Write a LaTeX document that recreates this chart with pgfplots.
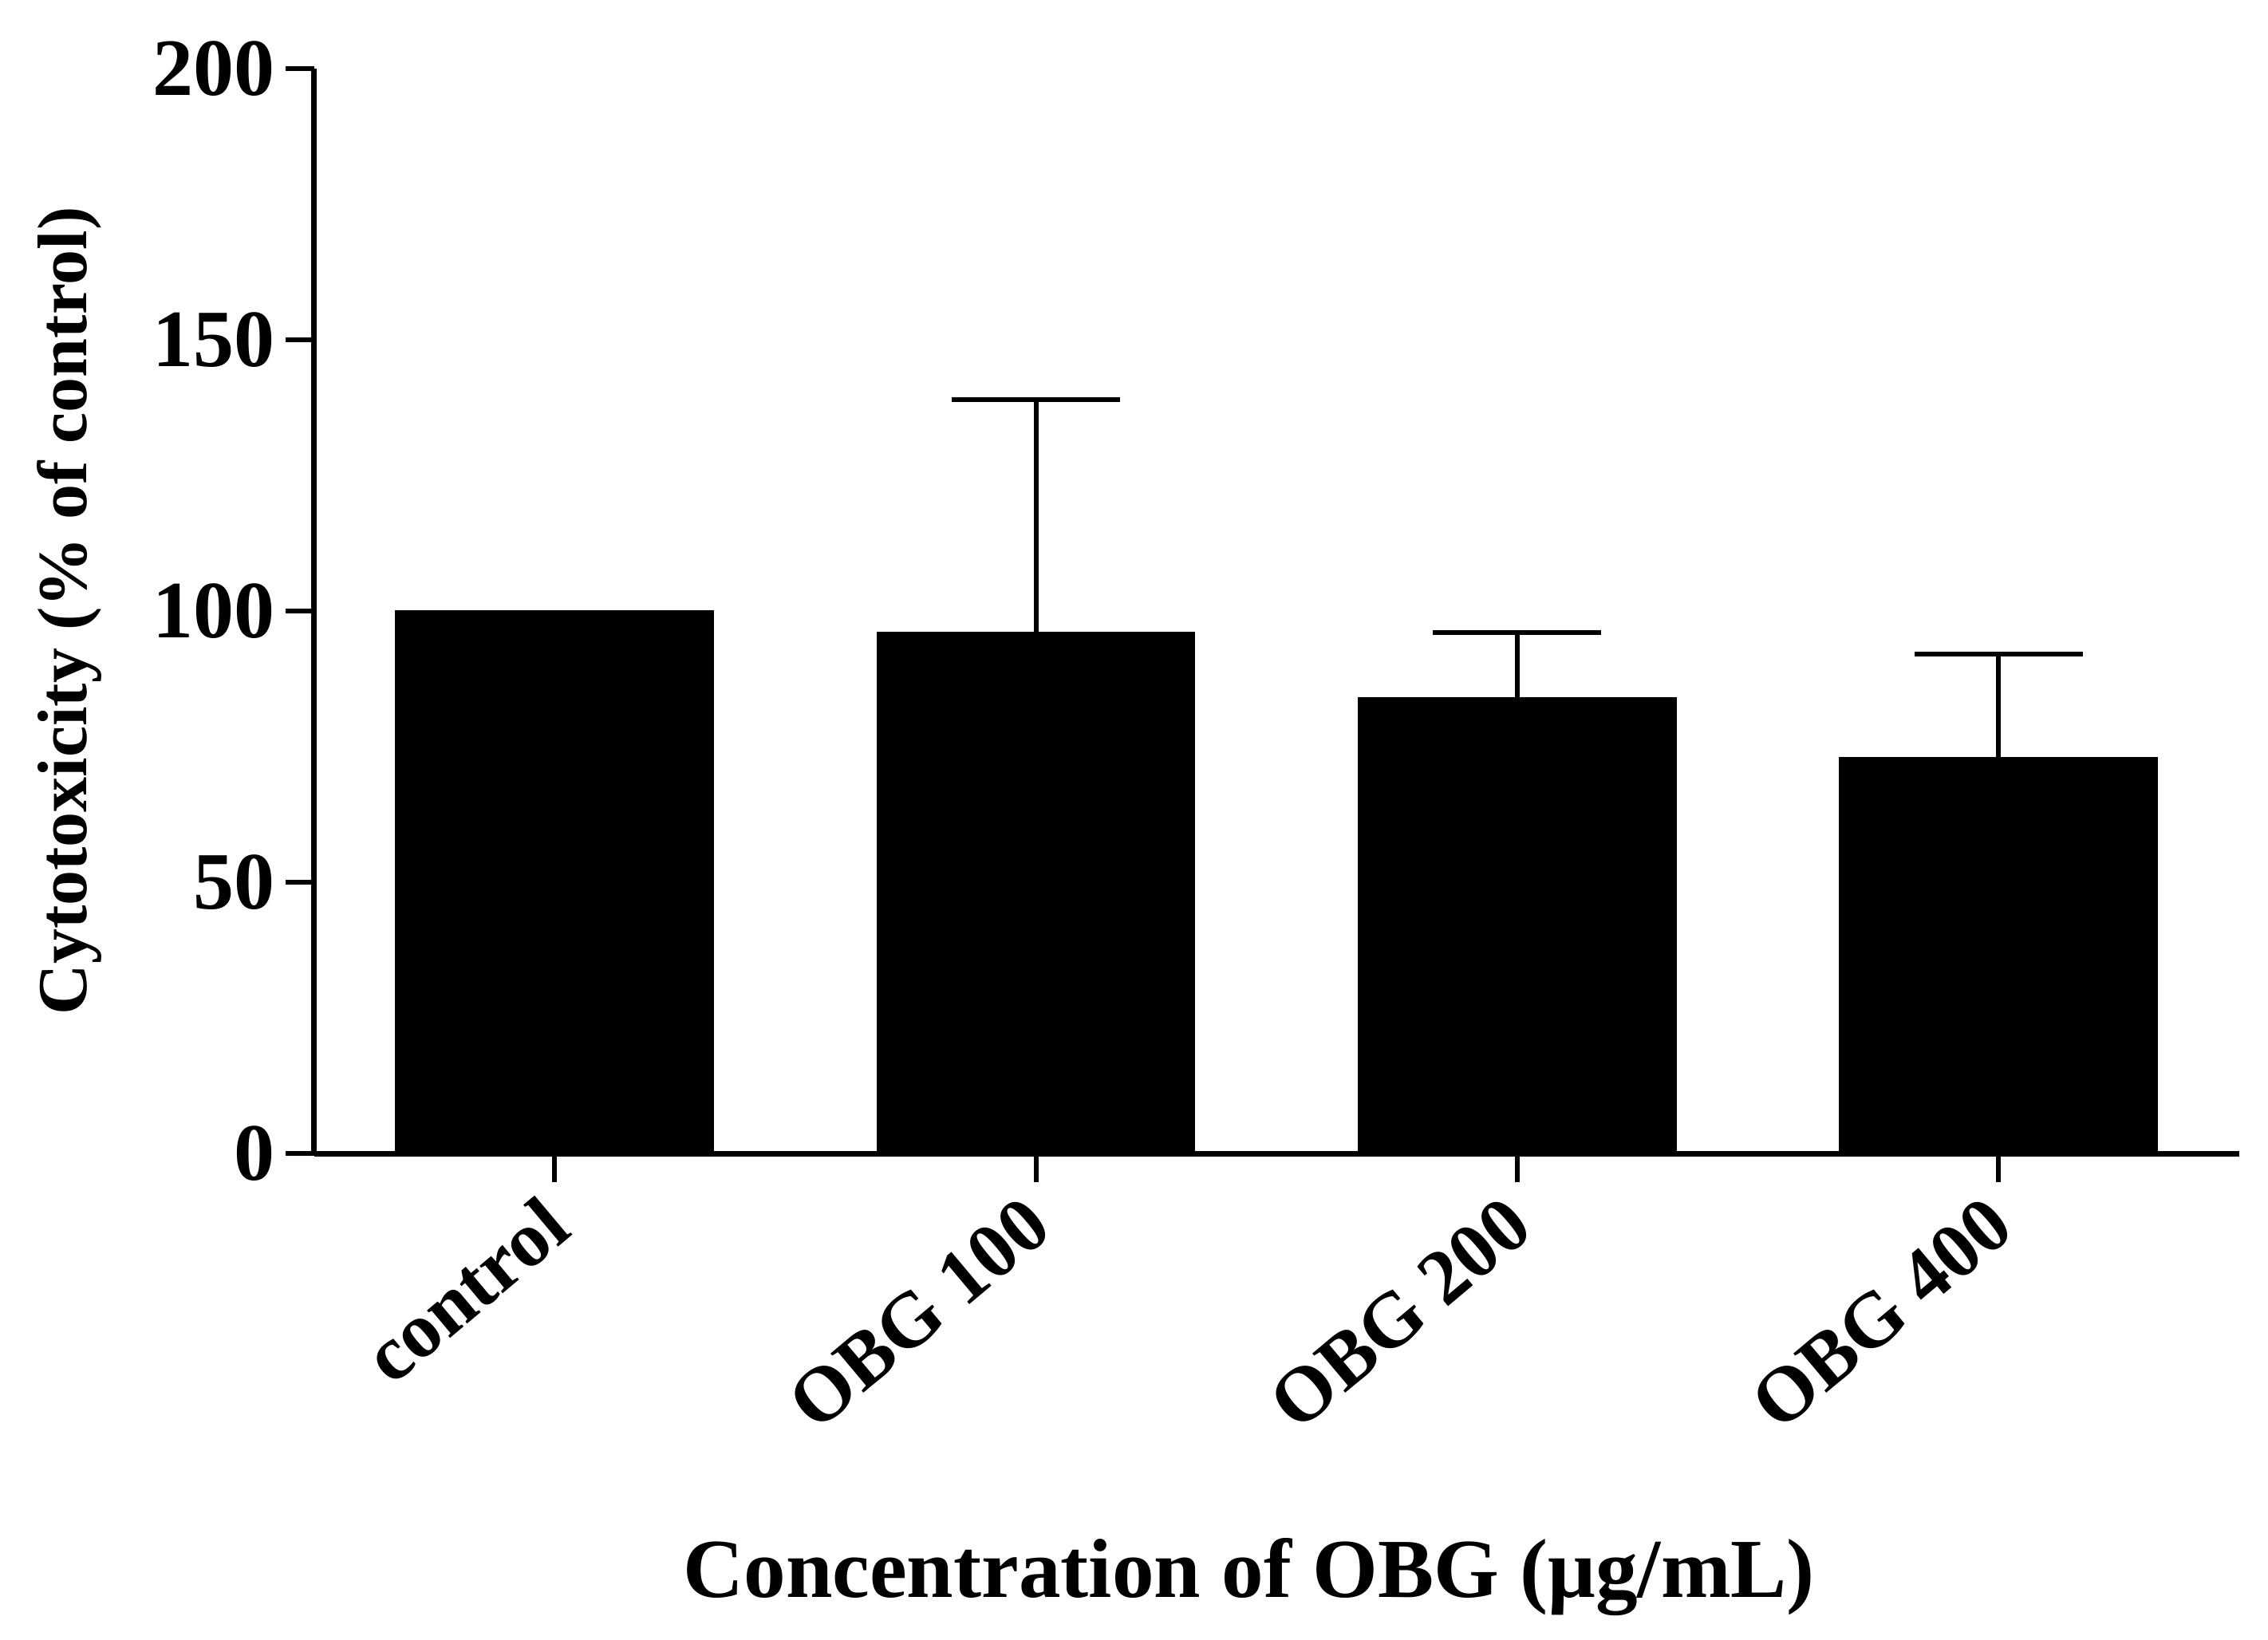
\documentclass[border=0pt]{standalone}
\usepackage{fontspec}
\setmainfont{Liberation Serif}
\usepackage{pgfplots}
\pgfplotsset{compat=1.18}
\begin{document}
\begin{tikzpicture}
\useasboundingbox (-98.4pt,-152.15pt) rectangle (612.35pt,361.6pt);
\begin{axis}[
  at={(0,0)}, anchor=south west,
  width=603.3pt, height=340.2pt, scale only axis,
  xmin=-0.5, xmax=3.5, ymin=0, ymax=200,
  axis x line*=bottom, axis y line*=left,
  ytick={0,50,100,150,200},
  xtick={0,1,2,3},
  xticklabels={control, OBG 100, OBG 200, OBG 400},
  tick align=outside, major tick length=9pt,
  tick style={line width=1.5pt, black},
  axis line style={line width=1.6pt, black},
  /pgf/number format/assume math mode=true,
  yticklabel style={font=\fontsize{25.5}{30}\selectfont\bfseries, inner sep=3pt},
  xticklabel style={font=\fontsize{24.5}{29}\selectfont\bfseries, rotate=40, anchor=east, inner sep=2pt, xshift=-3.6pt, yshift=-7.9pt},
  ylabel={Cytotoxicity (\% of control)},
  ylabel style={font=\fontsize{22}{26}\selectfont\bfseries, at={(axis description cs:0,0.5)}, anchor=center, yshift=76.6pt},
  xlabel={Concentration of OBG (μg/mL)},
  xlabel style={font=\fontsize{26.3}{30}\selectfont\bfseries, at={(axis description cs:0.4857,0)}, anchor=center, yshift=-132.7pt},
  ybar, bar width=0.66, bar shift=0pt,
  clip=false,
]
\addplot[ybar, bar shift=0pt, fill=black, draw=black]
  coordinates {(0,100)};
\addplot[ybar, bar shift=0pt, fill=black, draw=black,
  error bars/.cd, y dir=plus, y explicit,
  error bar style={line width=1.5pt, black},
  error mark options={rotate=90, mark size=26.4pt, line width=1.5pt, black}]
  coordinates {(1,96) +- (0,43) (2,84) +- (0,12) (3,73) +- (0,19)};
\end{axis}
\end{tikzpicture}
\end{document}
